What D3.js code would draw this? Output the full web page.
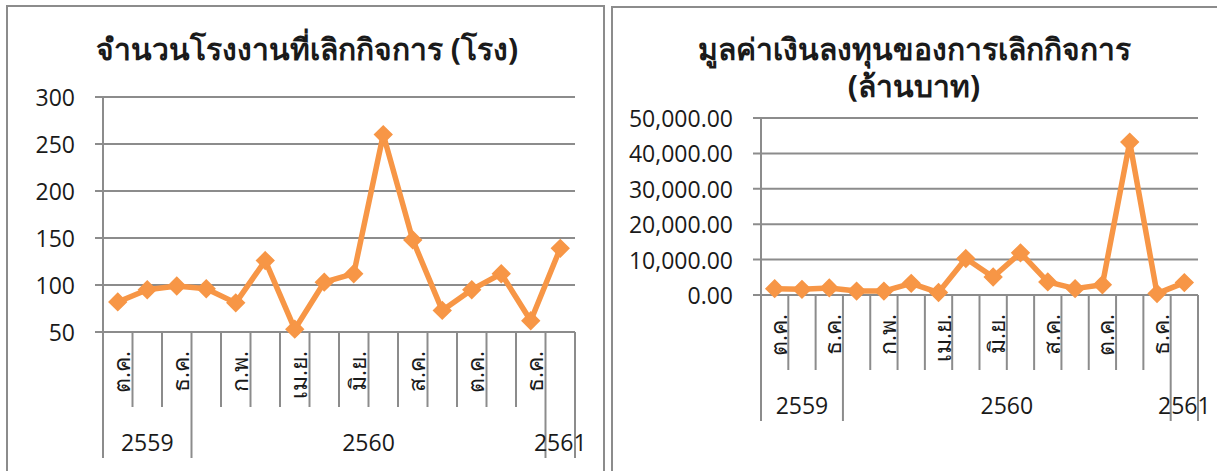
<!DOCTYPE html>
<meta charset="utf-8">
<title>Factory closures</title>
<script src="https://d3js.org/d3.v7.min.js"></script>
<style>
  body { margin: 0; background: #fff; }
  text { font-family: "Open Sans", "Noto Sans", sans-serif; fill: #1a1a1a; }
</style>
<div id="chart"></div>
<script>
  // months Oct 2559 .. Jan 2561
  const months = ["ต.ค.", "พ.ย.", "ธ.ค.", "ม.ค.", "ก.พ.", "มี.ค.", "เม.ย.", "พ.ค.",
    "มิ.ย.", "ก.ค.", "ส.ค.", "ก.ย.", "ต.ค.", "พ.ย.", "ธ.ค.", "ม.ค."];
  const years = ["2559", "2560", "2561"];
  const yearSpan = [3, 12, 1];   // months per year

  const factories = [82, 95, 99, 96, 81, 126, 53, 103, 112, 260, 148, 73, 95, 112, 62, 139];
  const investment = [1800, 1600, 2000, 1100, 1100, 3300, 700, 10300, 5100, 11900,
    3700, 1800, 2900, 43200, 400, 3500];

  const factoryTicks = [50, 100, 150, 200, 250, 300];
  const investTicks = [0, 10000, 20000, 30000, 40000, 50000];

  const orange = "#f79646", grey = "#8c8c8c";

  const svg = d3.select("#chart").append("svg")
    .attr("width", 1217)
    .attr("height", 471);

  // panel frames
  svg.append("rect").attr("x", 7).attr("y", 6).attr("width", 597).attr("height", 480)
    .attr("fill", "none").attr("stroke", grey).attr("stroke-width", 2);
  svg.append("rect").attr("x", 612).attr("y", 7).attr("width", 620).attr("height", 480)
    .attr("fill", "none").attr("stroke", grey).attr("stroke-width", 2);

  function panel(opt) {
    const g = svg.append("g");

    const x = d3.scaleBand().domain(d3.range(months.length)).range([opt.left, opt.right]);
    const y = d3.scaleLinear().domain(d3.extent(opt.ticks)).range([opt.bottom, opt.top]);

    // title
    opt.title.forEach((t, i) => {
      g.append("text")
        .attr("x", opt.titleX)
        .attr("y", opt.titleY + i * 37)
        .attr("text-anchor", "middle")
        .attr("dominant-baseline", "central")
        .style("font-size", "30px")
        .style("font-weight", "bold")
        .text(t);
    });

    // gridlines + tick labels
    g.selectAll(".grid").data(opt.ticks).join("line")
      .attr("x1", opt.left - 8).attr("x2", opt.right)
      .attr("y1", d => y(d)).attr("y2", d => y(d))
      .attr("stroke", grey).attr("stroke-width", 2);

    g.selectAll(".ylab").data(opt.ticks).join("text")
      .attr("x", opt.left - 28)
      .attr("y", d => y(d))
      .attr("text-anchor", "end")
      .attr("dominant-baseline", "central")
      .style("font-size", "23px")
      .text(opt.format);

    // vertical axis line
    g.append("line")
      .attr("x1", opt.left).attr("x2", opt.left)
      .attr("y1", opt.top).attr("y2", opt.bottom + 126)
      .attr("stroke", grey).attr("stroke-width", 2);

    // category separators
    const yearEdges = d3.cumsum(yearSpan);
    d3.range(1, months.length + 1).forEach(i => {
      const xe = i === months.length ? opt.right : x(i);
      const long = yearEdges.includes(i);
      g.append("line")
        .attr("x1", xe).attr("x2", xe)
        .attr("y1", opt.bottom).attr("y2", opt.bottom + (long ? 126 : 75))
        .attr("stroke", grey).attr("stroke-width", 2);
    });

    // month labels, every second one
    g.selectAll(".mlab").data(months.map((m, i) => ({ m, i })).filter(d => d.i % 2 === 0))
      .join("text")
      .attr("transform", d => `translate(${x(d.i) + x.bandwidth() / 2 + 3},${opt.bottom + 19}) rotate(-90)`)
      .attr("text-anchor", "end")
      .attr("dominant-baseline", "central")
      .style("font-size", "23px")
      .style("font-weight", 500)
      .text(d => d.m);

    // year labels
    let start = 0;
    years.forEach((yr, k) => {
      const a = x(start);
      const b = start + yearSpan[k] >= months.length ? opt.right : x(start + yearSpan[k]);
      g.append("text")
        .attr("x", (a + b) / 2)
        .attr("y", opt.bottom + 110)
        .attr("text-anchor", "middle")
        .attr("dominant-baseline", "central")
        .style("font-size", "23px")
        .text(yr);
      start += yearSpan[k];
    });

    // series
    const cx = i => x(i) + x.bandwidth() / 2;
    g.append("path")
      .datum(opt.values)
      .attr("fill", "none")
      .attr("stroke", orange)
      .attr("stroke-width", 5.5)
      .attr("stroke-linejoin", "round")
      .attr("d", d3.line().x((d, i) => cx(i)).y(d => y(d)));

    g.selectAll(".pt").data(opt.values).join("path")
      .attr("transform", (d, i) => `translate(${cx(i)},${y(d)})`)
      .attr("d", d3.symbol().type(d3.symbolDiamond2).size(190))
      .attr("fill", orange)
      .attr("stroke", orange)
      .attr("stroke-width", 1.5);
  }

  panel({
    left: 103, right: 575, top: 97, bottom: 332,
    ticks: factoryTicks, values: factories,
    format: d3.format("d"),
    title: ["จำนวนโรงงานที่เลิกกิจการ (โรง)"], titleX: 307, titleY: 48
  });

  panel({
    left: 761, right: 1198, top: 118, bottom: 295,
    ticks: investTicks, values: investment,
    format: d3.format(",.2f"),
    title: ["มูลค่าเงินลงทุนของการเลิกกิจการ", "(ล้านบาท)"], titleX: 914, titleY: 48
  });
</script>
